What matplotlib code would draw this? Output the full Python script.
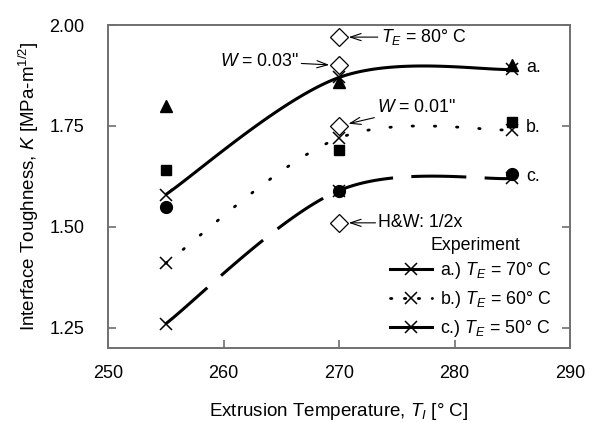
import numpy as np
import matplotlib
matplotlib.use("Agg")
import matplotlib.pyplot as plt
from matplotlib.lines import Line2D

plt.rcParams['font.family'] = ['Liberation Sans', 'DejaVu Sans']
plt.rcParams['mathtext.fontset'] = 'custom'
plt.rcParams['mathtext.rm'] = 'Liberation Sans'
plt.rcParams['mathtext.it'] = 'Liberation Sans:italic'
plt.rcParams['mathtext.bf'] = 'Liberation Sans:bold'

# Data
temps = [255, 270, 285]
exp_a = [1.58, 1.87, 1.89]   # T_E = 70 C (x markers, fit solid)
exp_b = [1.41, 1.72, 1.74]   # T_E = 60 C
exp_c = [1.26, 1.59, 1.62]   # T_E = 50 C
tri_vals = [1.80, 1.86, 1.90]
sq_vals = [1.64, 1.69, 1.76]
circ_vals = [1.55, 1.59, 1.63]
diamond_x = [270, 270, 270, 270]
diamond_vals = [1.97, 1.90, 1.75, 1.51]
xticks = [250, 260, 270, 280, 290]
yticks = [1.25, 1.50, 1.75, 2.00]
legend_labels = ['a.) $T_E$ = 70° C', 'b.) $T_E$ = 60° C', 'c.) $T_E$ = 50° C']


def smooth(xs, ys, n=60):
    # Excel-like smoothed line (Catmull-Rom Bezier)
    P = np.column_stack([xs, ys]).astype(float)
    out = []
    m = len(P)
    for i in range(m - 1):
        p0 = P[i - 1] if i > 0 else P[i]
        p1 = P[i]
        p2 = P[i + 1]
        p3 = P[i + 2] if i + 2 < m else P[i + 1]
        c1 = p1 + (p2 - p0) / 6.0
        c2 = p2 - (p3 - p1) / 6.0
        t = np.linspace(0, 1, n)[:, None]
        seg = ((1 - t) ** 3) * p1 + 3 * ((1 - t) ** 2) * t * c1 + 3 * (1 - t) * t ** 2 * c2 + t ** 3 * p2
        out.append(seg if i == 0 else seg[1:])
    s = np.vstack(out)
    return s[:, 0], s[:, 1]


fig = plt.figure(figsize=(5.99, 4.23), dpi=100)
ax = fig.add_axes([108 / 599, 1 - 348 / 423, (570 - 108) / 599, (348 - 25) / 423])

xa, ya = smooth(temps, exp_a)
xb, yb = smooth(temps, exp_b)
xc, yc = smooth(temps, exp_c)
ax.plot(xa, ya, color='black', lw=2.2, solid_capstyle='butt')
ax.plot(xb, yb, color='black', lw=2.0, linestyle=(0, (0.5, 7.5)), dash_capstyle='round')
ax.plot(xc, yc, color='black', lw=2.2, linestyle=(0, (18, 6)), dash_capstyle='butt')

ax.plot(temps, tri_vals, linestyle='none', marker='^', color='black', ms=9)
ax.plot(temps, sq_vals, linestyle='none', marker='s', color='black', ms=7.5)
ax.plot(temps, circ_vals, linestyle='none', marker='o', color='black', ms=8.5)
ax.plot(diamond_x, diamond_vals, linestyle='none', marker='D', mfc='white', mec='black', ms=9, mew=0.9)

ax.plot(temps, exp_a, linestyle='none', marker='x', color='black', ms=8, mew=1.1)
ax.plot(temps, exp_b, linestyle='none', marker='x', color='black', ms=8, mew=1.1)
ax.plot(temps, exp_c, linestyle='none', marker='x', color='black', ms=8, mew=1.1)

fs = 12.8
arrow = dict(arrowstyle='->,head_length=0.6,head_width=0.2', color='black', lw=0.8, shrinkA=0, shrinkB=7)
ax.annotate('$T_E$ = 80° C', xy=(270, 1.97), xytext=(273.6, 1.97), fontsize=fs, va='center', ha='left', arrowprops=arrow)
ax.annotate('$W$ = 0.03"', xy=(270, 1.90), xytext=(266.5, 1.91), fontsize=fs, va='center', ha='right', arrowprops=arrow)
ax.annotate('$W$ = 0.01"', xy=(270, 1.75), xytext=(273.3, 1.795), fontsize=fs, va='center', ha='left', arrowprops=arrow)
ax.annotate('H&W: 1/2x', xy=(270, 1.51), xytext=(273.4, 1.51), fontsize=fs, va='center', ha='left', arrowprops=arrow)

ax.text(286.2, 1.895, 'a.', fontsize=fs, va='center', ha='left')
ax.text(286.2, 1.745, 'b.', fontsize=fs, va='center', ha='left')
ax.text(286.2, 1.625, 'c.', fontsize=fs, va='center', ha='left')

ax.text(281.8, 1.455, 'Experiment', fontsize=fs, va='center', ha='center')

la = Line2D([], [], color='black', lw=2.2, marker='x', ms=8, mew=1.1)
lb = Line2D([], [], color='black', lw=2.0, linestyle=(0, (0.5, 4.5)), dash_capstyle='round', marker='x', ms=8, mew=1.1)
lc = Line2D([], [], color='black', lw=2.2, marker='x', ms=8, mew=1.1)
leg = ax.legend([la, lb, lc], legend_labels,
                frameon=False, fontsize=fs,
                loc='lower right', bbox_to_anchor=(0.987, -0.012), handlelength=2.4,
                handletextpad=0.45, labelspacing=0.45, borderpad=0.2)

ax.set_xlim(250, 290)
ax.set_ylim(1.20, 2.00)
ax.set_xticks(xticks)
ax.set_yticks(yticks)
ax.set_xticklabels([str(v) for v in xticks])
ax.set_yticklabels(['%.2f' % v for v in yticks])
ax.tick_params(direction='in', length=6, width=1.2, color='#707070', labelsize=13, right=True, top=False)
ax.tick_params(axis='y', pad=17)
ax.tick_params(axis='x', pad=12)
for s in ax.spines.values():
    s.set_color('#707070')
    s.set_linewidth(1.4)

ax.set_xlabel('Extrusion Temperature, $T_I$ [° C]', fontsize=13.5, labelpad=14)
ax.set_ylabel('Interface Toughness, $K$ [MPa-m$^{1/2}$]', fontsize=13.5, labelpad=6)

fig.savefig('out.png', dpi=100)
